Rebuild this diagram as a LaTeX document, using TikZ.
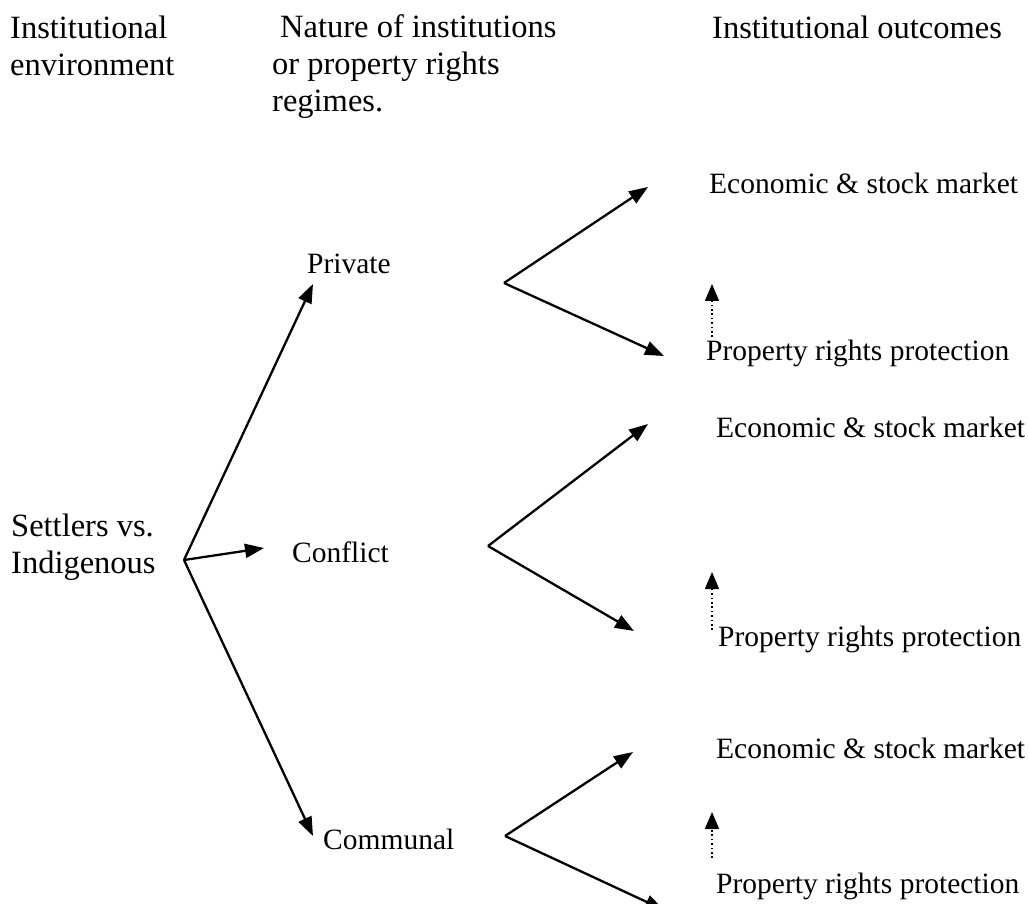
\documentclass[tikz,border=0pt]{standalone}
\usepackage{fontspec}
\setmainfont{Liberation Serif}
\usepackage{tikz}
\usetikzlibrary{arrows.meta}
\usetikzlibrary{positioning}

\begin{document}
\begin{tikzpicture}[x=1pt,y=-1pt]
\useasboundingbox (0,0) rectangle (1029,904);

\tikzstyle{head}=[anchor=base west,inner sep=0pt,align=left,font=\fontsize{32.5}{37}\selectfont]
\tikzstyle{label}=[anchor=base west,inner sep=0pt,font=\fontsize{29.5}{34}\selectfont]
\tikzstyle{link}=[line width=2.3pt,-{Triangle[length=19pt,width=14pt]}]
\tikzstyle{feedback}=[line width=1.6pt,dash pattern=on 1.6pt off 2.8pt,-{Triangle[length=17pt,width=14pt]}]

   %column headers (base = last line)
\node (h_env) [head] at (10,76) {Institutional\\environment};
\node (h_nature) [head] at (272,112) {\hspace{8pt}Nature of institutions\\or property rights\\regimes.};
\node (h_out) [head] at (712,39) {Institutional outcomes};

\node (env) [head] at (11,573) {Settlers vs.\\Indigenous};
\coordinate (root) at (184,560);

\node (private) [label] at (307,274) {Private};
\node (conflict) [label] at (292,562) {Conflict};
\node (communal) [label] at (323,849) {Communal};

\coordinate (private_tip) at (313,284);
\coordinate (conflict_tip) at (264,548);
\coordinate (communal_tip) at (313,836);

\draw[link] (root) -- (private_tip);
\draw[link] (root) -- (conflict_tip);
\draw[link] (root) -- (communal_tip);

%outcomes
\node (econ1) [label] at (709,194) {Economic \& stock market};
\node (prop1) [label] at (706,360) {Property rights protection};
\node (econ2) [label] at (716,437) {Economic \& stock market};
\node (prop2) [label] at (718,646) {Property rights protection};
\node (econ3) [label] at (716,758) {Economic \& stock market};
\node (prop3) [label] at (716,893) {Property rights protection};

\coordinate (fork1) at (504,283);
\coordinate (fork2) at (488,546);
\coordinate (fork3) at (505,836);

\draw[link] (fork1) -- (648,187);
\draw[link] (fork1) -- (664,356);
\draw[link] (fork2) -- (648,424);
\draw[link] (fork2) -- (634,631);
\draw[link] (fork3) -- (633,752);
\draw[link] (fork3) -- (664,910);

%dotted feedback
\draw[feedback] (712,337) -- (712,284);
\draw[feedback] (712,630) -- (712,572);
\draw[feedback] (712,858) -- (712,812);
\end{tikzpicture}
\end{document}
